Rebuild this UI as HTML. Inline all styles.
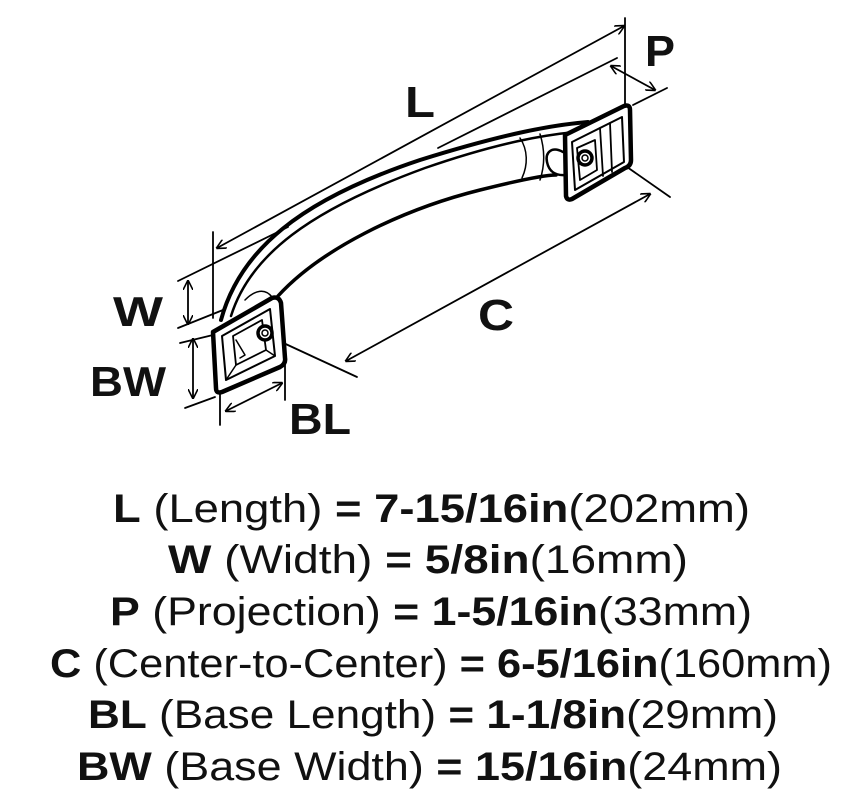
<!DOCTYPE html>
<html><head><meta charset="utf-8"><style>
html,body{margin:0;padding:0;background:#fff;}
svg{display:block}
</style></head><body>
<svg width="843" height="805" viewBox="0 0 843 805" xmlns="http://www.w3.org/2000/svg">
<defs>
<marker id="a" viewBox="0 0 10 10" refX="9" refY="5" markerWidth="10" markerHeight="10" orient="auto-start-reverse" markerUnits="userSpaceOnUse">
<path d="M0,0 L10,5 L0,10" fill="none" stroke="#000" stroke-width="1.6"/>
</marker>
</defs>
<g stroke="#000" fill="none" stroke-width="1.8" stroke-linecap="round">
<line x1="217" y1="248" x2="624" y2="26" marker-start="url(#a)" marker-end="url(#a)"/>
<line x1="625" y1="18" x2="625" y2="104"/>
<line x1="213" y1="232" x2="213" y2="318"/>
<line x1="438" y1="148" x2="617" y2="58"/>
<line x1="611" y1="66" x2="655" y2="90" marker-start="url(#a)" marker-end="url(#a)"/>
<line x1="633" y1="105" x2="667" y2="88"/>
<line x1="346" y1="361" x2="650" y2="194" marker-start="url(#a)" marker-end="url(#a)"/>
<line x1="627" y1="167" x2="670" y2="197"/>
<line x1="277" y1="340" x2="357" y2="377"/>
<line x1="226" y1="411" x2="282" y2="383" marker-start="url(#a)" marker-end="url(#a)"/>
<line x1="220" y1="390" x2="220" y2="425"/>
<line x1="285" y1="365" x2="285" y2="400"/>
<line x1="188" y1="281" x2="188" y2="324" marker-start="url(#a)" marker-end="url(#a)"/>
<line x1="178" y1="281" x2="288" y2="227"/>
<line x1="178" y1="328" x2="223" y2="310"/>
<line x1="193" y1="339" x2="193" y2="398" marker-start="url(#a)" marker-end="url(#a)"/>
<line x1="180" y1="343" x2="213" y2="335"/>
<line x1="185" y1="408" x2="215" y2="397"/>
</g>
<g stroke="#000" fill="none" stroke-linejoin="round" stroke-linecap="round">
<path d="M221,320 C240,250 300,200 420,160 C500,135 550,125 588,122" stroke-width="4"/>
<path d="M231,316 C250,255 310,210 425,168 C500,142 545,135 575,132" stroke-width="2.5"/>
<path d="M278,296 C320,250 400,210 480,190 C520,180 545,175 556,175" stroke-width="3.5"/>
<path d="M245,300 C255,290 265,288 272,297" stroke-width="1.5"/>
<path d="M520,138 C528,150 528,165 522,178 M540,134 C545,150 545,165 540,180" stroke-width="1.5"/>
<path d="M563,152 C552,146 545,152 547,162 C549,172 556,176 566,175" stroke-width="2.5"/>
<path d="M213,332 L272,298 Q279,296 281,303 L285,358 Q286,364 280,367 L222,392 Q216,394 216,388 Z" stroke-width="4.5" fill="#fff"/>
<path d="M222,336 L270,309 L275,356 L226,380 Z" stroke-width="2"/>
<path d="M233,336 L262,320 L266,350 L236,365 Z" stroke-width="1.8"/>
<path d="M236,340 L245,355 L240,358 M226,380 L236,365 M275,356 L266,350" stroke-width="1.5"/>
<circle cx="265" cy="333" r="7" stroke-width="3.5" fill="#fff"/>
<circle cx="265" cy="333" r="3" stroke-width="1.5"/>
<path d="M565,135 L624,106 Q630,104 630,110 L631,160 Q631,166 625,168 L572,199 Q567,201 566,196 Z" stroke-width="4.5" fill="#fff"/>
<path d="M572,142 L622,117 L624,162 L575,190 Z" stroke-width="2"/>
<path d="M600,128 L603,176 M610,123 L612,172" stroke-width="1.8"/>
<path d="M577,148 L595,140 L597,170 L580,180 Z" stroke-width="1.8"/>
<circle cx="585" cy="158" r="7" stroke-width="3.5" fill="#fff"/>
<circle cx="585" cy="158" r="3" stroke-width="1.5"/>
</g>
<g font-family="Liberation Sans, sans-serif" fill="#111" font-weight="bold">
<text x="405" y="117" font-size="44" textLength="30" lengthAdjust="spacingAndGlyphs">L</text>
<text x="645" y="66" font-size="44" textLength="30" lengthAdjust="spacingAndGlyphs">P</text>
<text x="478" y="330" font-size="44" textLength="36" lengthAdjust="spacingAndGlyphs">C</text>
<text x="113" y="326" font-size="42" textLength="50" lengthAdjust="spacingAndGlyphs">W</text>
<text x="90" y="396" font-size="42" textLength="76" lengthAdjust="spacingAndGlyphs">BW</text>
<text x="289" y="434" font-size="44" textLength="62" lengthAdjust="spacingAndGlyphs">BL</text>
</g>
<g font-family="Liberation Sans, sans-serif" font-size="40" fill="#111">
<text x="113" y="522" textLength="637" lengthAdjust="spacingAndGlyphs"><tspan font-weight="bold">L</tspan> (Length) <tspan font-weight="bold">= 7-15/16in</tspan>(202mm)</text>
<text x="168" y="573" textLength="520" lengthAdjust="spacingAndGlyphs"><tspan font-weight="bold">W</tspan> (Width) <tspan font-weight="bold">= 5/8in</tspan>(16mm)</text>
<text x="110" y="625" textLength="642" lengthAdjust="spacingAndGlyphs"><tspan font-weight="bold">P</tspan> (Projection) <tspan font-weight="bold">= 1-5/16in</tspan>(33mm)</text>
<text x="50" y="677" textLength="782" lengthAdjust="spacingAndGlyphs"><tspan font-weight="bold">C</tspan> (Center-to-Center) <tspan font-weight="bold">= 6-5/16in</tspan>(160mm)</text>
<text x="88" y="728" textLength="690" lengthAdjust="spacingAndGlyphs"><tspan font-weight="bold">BL</tspan> (Base Length) <tspan font-weight="bold">= 1-1/8in</tspan>(29mm)</text>
<text x="77" y="780" textLength="705" lengthAdjust="spacingAndGlyphs"><tspan font-weight="bold">BW</tspan> (Base Width) <tspan font-weight="bold">= 15/16in</tspan>(24mm)</text>
</g>
</svg>
</body></html>
